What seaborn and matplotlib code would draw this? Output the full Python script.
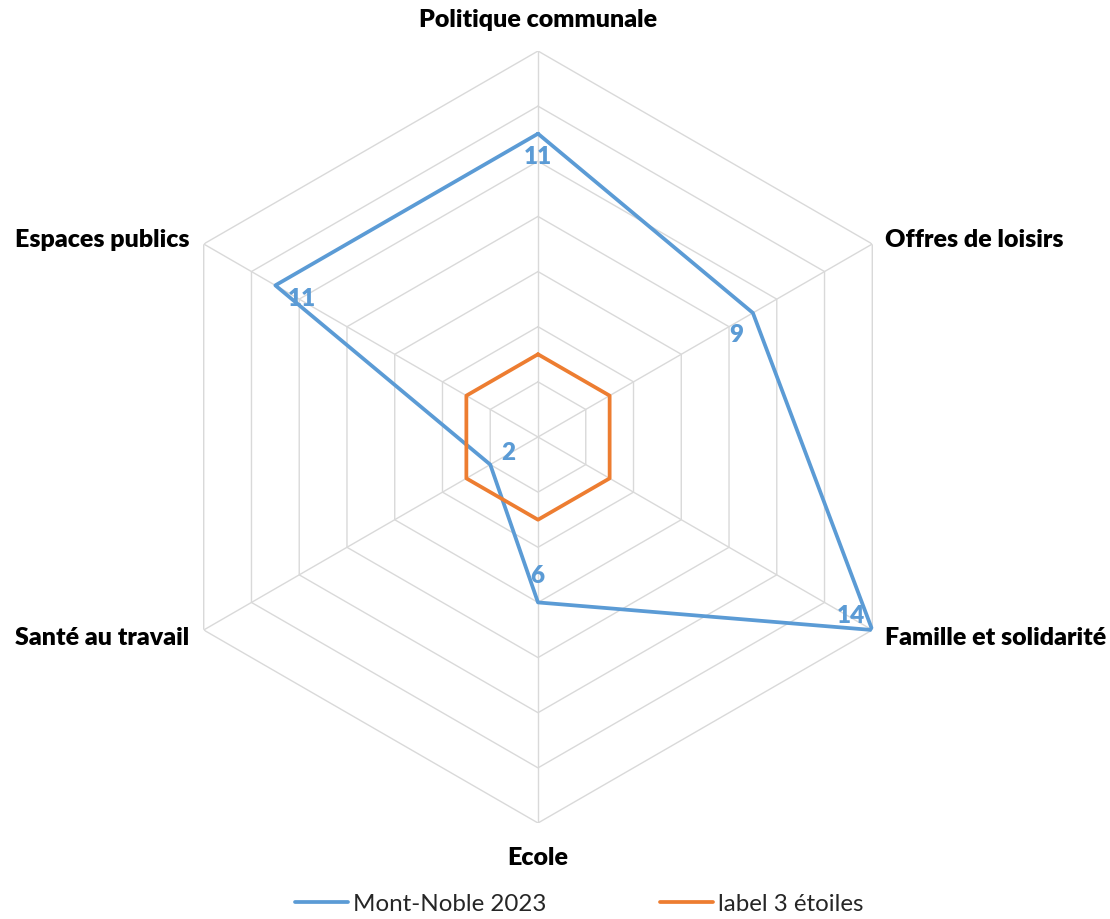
import numpy as np
import pandas as pd
import matplotlib
matplotlib.use("Agg")
import matplotlib.pyplot as plt
import seaborn as sns

categories = ["Politique communale", "Offres de loisirs", "Famille et solidarité",
              "Ecole", "Santé au travail", "Espaces publics"]
series_names = ["Mont-Noble 2023", "label 3 étoiles"]
mont_noble = [11, 9, 14, 6, 2, 11]
label3 = [3, 3, 3, 3, 3, 3]
ring_values = [2, 4, 6, 8, 10, 12, 14]
r_max = 14

colors = {"Mont-Noble 2023": "#5B9BD5", "label 3 étoiles": "#ED7D31"}

sns.set_theme(style="white")
plt.rcParams['font.family'] = ['Lato', 'DejaVu Sans']

n = len(categories)
theta = np.linspace(0, 2 * np.pi, n, endpoint=False)
theta_closed = np.append(theta, 2 * np.pi)

rows = []
for name, vals in zip(series_names, [mont_noble, label3]):
    vc = list(vals) + [vals[0]]
    for t, v in zip(theta_closed, vc):
        rows.append({"theta": t, "value": v, "series": name})
df = pd.DataFrame(rows)

fig = plt.figure(figsize=(11.1, 9.2), dpi=100)
W, H = 1110, 920
cx, cy, R = 538, 438, 386
ax = fig.add_axes([(cx - R) / W, (H - cy - R) / H, 2 * R / W, 2 * R / H], projection="polar")
ax.set_theta_zero_location("N")
ax.set_theta_direction(-1)
ax.set_ylim(0, r_max)
ax.grid(False)
ax.spines["polar"].set_visible(False)
ax.set_xticks([])
ax.set_yticks([])
ax.patch.set_alpha(0)

grid_col = "#D9D9D9"
for rv in ring_values:
    ax.plot(theta_closed, [rv] * (n + 1), color=grid_col, lw=1.0, zorder=1)
for t in theta:
    ax.plot([t, t], [0, r_max], color=grid_col, lw=1.0, zorder=1)

sns.lineplot(data=df, x="theta", y="value", hue="series", palette=colors,
             sort=False, estimator=None, lw=2.7, ax=ax, zorder=3)
ax.set_xlabel("")
ax.set_ylabel("")
handles, labels = ax.get_legend_handles_labels()
if ax.get_legend() is not None:
    ax.get_legend().remove()

# data labels
lab_off = [(0, -22), (-17, -21), (-21, 15), (-1, 27), (18, 13), (27, -13)]
for t, v, off in zip(theta, mont_noble, lab_off):
    ax.annotate(str(v), (t, v), xytext=off, textcoords="offset pixels",
                ha="center", va="center", fontsize=17.5, fontweight="heavy",
                color=colors["Mont-Noble 2023"], zorder=5)

# category labels
cat_off = [((0, 32), "center"), ((13, 5), "left"), ((13, -7), "left"),
           ((0, -34), "center"), ((-14, -7), "right"), ((-14, 5), "right")]
for t, c, (off, ha) in zip(theta, categories, cat_off):
    ax.annotate(c, (t, r_max), xytext=off, textcoords="offset pixels",
                ha=ha, va="center", fontsize=18, fontweight="heavy", color="black",
                annotation_clip=False)

fig.legend(handles, labels, loc="center", bbox_to_anchor=(0.5 + 24 / W, 1 - 905 / H),
           ncol=2, frameon=False, fontsize=17.4, handlelength=2.2,
           handletextpad=0.2, columnspacing=4.7)

fig.savefig("out.png", dpi=100, facecolor="white")
